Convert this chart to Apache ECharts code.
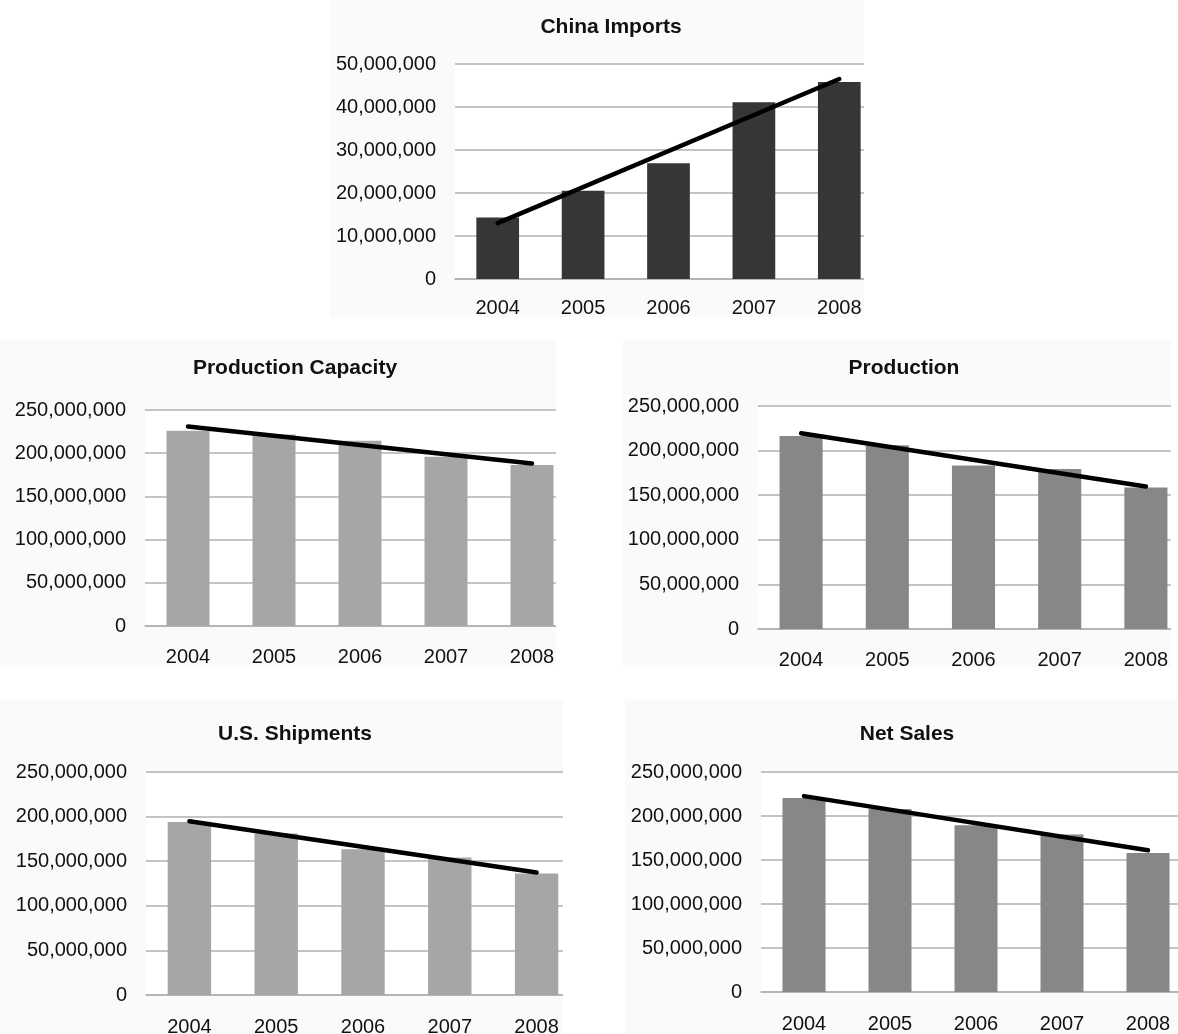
<!DOCTYPE html>
<html>
<head>
<meta charset="utf-8">
<script src="https://cdn.jsdelivr.net/npm/echarts@6/dist/echarts.min.js"></script>
<style>
  html, body { margin: 0; padding: 0; background: #ffffff; }
  #page { position: relative; width: 1178px; height: 1034px; overflow: hidden; }
  /* the outer box clips the plot on the right, like the cropped original */
  .clip { position: absolute; overflow: hidden; background: #fafafa; }
  .clip > div { position: absolute; left: 0; top: 0; height: 100%; }
</style>
</head>
<body>
<div id="page">
  <div class="clip" style="left:330px;top:0px;width:534px;height:317px"><div id="c0" style="width:552px"></div></div>
  <div class="clip" style="left:0px;top:340px;width:556px;height:325px"><div id="c1" style="width:575px"></div></div>
  <div class="clip" style="left:623px;top:340px;width:548px;height:327px"><div id="c2" style="width:566px"></div></div>
  <div class="clip" style="left:0px;top:700px;width:563px;height:334px"><div id="c3" style="width:580px"></div></div>
  <div class="clip" style="left:625px;top:700px;width:553px;height:334px"><div id="c4" style="width:566px"></div></div>
</div>
<script>
// years on every x axis
const years = ['2004', '2005', '2006', '2007', '2008'];

// bar values
const chinaImports = [14300000, 20500000, 26900000, 41100000, 45800000];
const productionCapacity = [226000000, 221500000, 214500000, 196000000, 186300000];
const production = [216400000, 206000000, 183200000, 179400000, 158500000];
const usShipments = [194000000, 181000000, 163500000, 154200000, 136200000];
const netSales = [220400000, 208000000, 189600000, 178900000, 158000000];

// trend lines: only the two ends are read, the line is drawn between them
const chinaTrend = [13000000, null, null, null, 46500000];
const capacityTrend = [231000000, null, null, null, 188000000];
const productionTrend = [219400000, null, null, null, 159800000];
const shipmentsTrend = [194800000, null, null, null, 137400000];
const salesTrend = [222600000, null, null, null, 161000000];

// y axis ranges
const chinaAxis = { max: 50000000, interval: 10000000 };
const bigAxis = { max: 250000000, interval: 50000000 };

const FONT = '"Liberation Sans", Arial, sans-serif';

function makeOption(cfg) {
  return {
    animation: false,
    title: {
      text: cfg.title,
      left: cfg.titleX,
      top: cfg.titleY,
      textAlign: 'center',
      padding: 0,
      textStyle: { fontFamily: FONT, fontSize: 21, fontWeight: 'bold', color: '#111111' }
    },
    grid: {
      left: cfg.grid[0],
      right: 0,
      top: cfg.grid[1],
      bottom: cfg.grid[2],
      containLabel: false,
      outerBoundsMode: 'none',
      show: true,
      backgroundColor: '#ffffff',
      borderWidth: 0
    },
    xAxis: {
      type: 'category',
      data: years,
      axisTick: { show: false },
      axisLine: { lineStyle: { color: '#b0b0b0', width: 1.5 } },
      axisLabel: { margin: cfg.xMargin, fontFamily: FONT, fontSize: 20, color: '#111111' }
    },
    yAxis: {
      type: 'value',
      min: 0,
      max: cfg.axis.max,
      interval: cfg.axis.interval,
      axisLine: { show: false },
      axisTick: { show: false },
      splitLine: { lineStyle: { color: '#b0b0b0', width: 1.5 } },
      axisLabel: {
        margin: 19,
        fontFamily: FONT,
        fontSize: 20,
        color: '#111111',
        formatter: function (v) { return v.toLocaleString('en-US'); }
      }
    },
    series: [
      {
        type: 'bar',
        data: cfg.bars,
        barWidth: '50%',
        itemStyle: { color: cfg.color }
      },
      {
        type: 'line',
        data: cfg.trend,
        connectNulls: true,
        symbol: 'none',
        lineStyle: { color: '#000000', width: 4.5, cap: 'round' },
        z: 5
      }
    ]
  };
}

const charts = [
  { id: 'c0', title: 'China Imports', titleX: 281, titleY: 17, grid: [125, 64, 38], xMargin: 19,
    axis: chinaAxis, bars: chinaImports, trend: chinaTrend, color: '#363636' },
  { id: 'c1', title: 'Production Capacity', titleX: 295, titleY: 18, grid: [145, 70, 39], xMargin: 21,
    axis: bigAxis, bars: productionCapacity, trend: capacityTrend, color: '#a6a6a6' },
  { id: 'c2', title: 'Production', titleX: 281, titleY: 18, grid: [135, 66, 38], xMargin: 21,
    axis: bigAxis, bars: production, trend: productionTrend, color: '#878787' },
  { id: 'c3', title: 'U.S. Shipments', titleX: 295, titleY: 24, grid: [146, 72, 39], xMargin: 22,
    axis: bigAxis, bars: usShipments, trend: shipmentsTrend, color: '#a6a6a6' },
  { id: 'c4', title: 'Net Sales', titleX: 282, titleY: 24, grid: [136, 72, 42], xMargin: 22,
    axis: bigAxis, bars: netSales, trend: salesTrend, color: '#878787' }
];

charts.forEach(function (cfg) {
  const chart = echarts.init(document.getElementById(cfg.id), null, { renderer: 'canvas' });
  chart.setOption(makeOption(cfg));
});
</script>
</body>
</html>
